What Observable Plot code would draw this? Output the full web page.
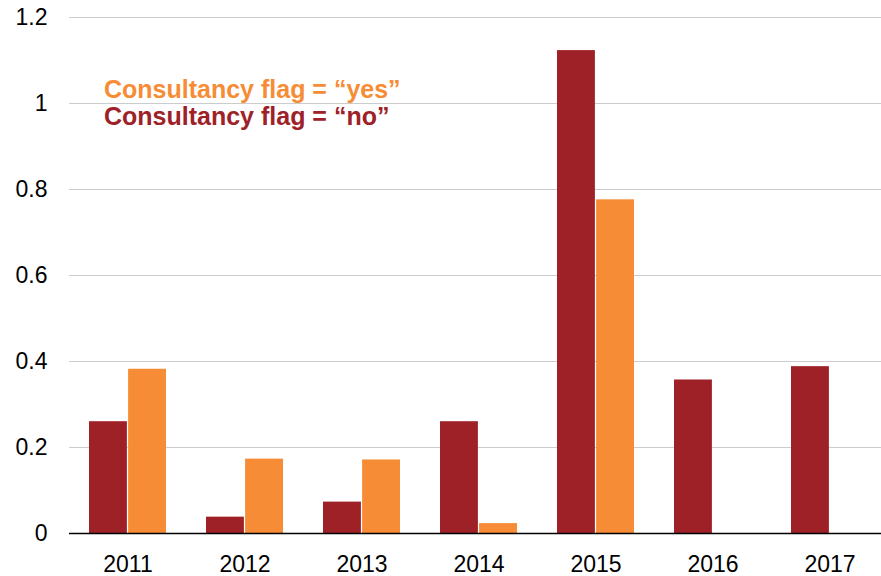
<!DOCTYPE html>
<html>
<head>
<meta charset="utf-8">
<script src="https://cdn.jsdelivr.net/npm/d3@7"></script>
<script src="https://cdn.jsdelivr.net/npm/@observablehq/plot@0.6"></script>
<style>
  html, body { margin: 0; padding: 0; background: #fff; }
  #wrap { position: relative; width: 881px; height: 576px; font-family: "Liberation Sans", Arial, sans-serif; }
  #legend { position: absolute; left: 104px; top: 76px; font-weight: bold; font-size: 25px; line-height: 27px; white-space: nowrap; }
</style>
</head>
<body>
<div id="wrap">
  <div id="chart"></div>
  <div id="legend"></div>
</div>
<script>
const years = ["2011", "2012", "2013", "2014", "2015", "2016", "2017"];
const noValues = [0.260, 0.038, 0.073, 0.260, 1.123, 0.357, 0.388];
const yesValues = [0.382, 0.173, 0.171, 0.023, 0.776, null, null];
const seriesLabels = ["Consultancy flag = \u201cyes\u201d", "Consultancy flag = \u201cno\u201d"];
const yTicks = [0, 0.2, 0.4, 0.6, 0.8, 1, 1.2];
const colorNo = "#9E2128";
const colorYes = "#F68D36";

const noRows = years.map((y, i) => ({ year: y, value: noValues[i] })).filter(d => d.value != null);
const yesRows = years.map((y, i) => ({ year: y, value: yesValues[i] })).filter(d => d.value != null);

const xRange = [69, 888];
const padInner = 0.34, padOuter = 0.17;
const band = d3.scaleBand(years, xRange).paddingInner(padInner).paddingOuter(padOuter);
const half = band.bandwidth() / 2;

const chart = Plot.plot({
  width: 881,
  height: 576,
  marginLeft: 69,
  marginRight: 0,
  marginTop: 17,
  marginBottom: 43,
  style: { fontFamily: "Liberation Sans, Arial, sans-serif", fontSize: "23px", color: "#000", background: "#fff", overflow: "visible" },
  x: { domain: years, range: xRange, paddingInner: padInner, paddingOuter: padOuter, label: null, tickSize: 0, tickPadding: 22 },
  y: { domain: [0, 1.2], ticks: yTicks, tickFormat: d => String(d), label: null, tickSize: 0, tickPadding: 22 },
  marks: [
    Plot.ruleY(yTicks.filter(d => d > 0), { stroke: "#cccccc", strokeWidth: 1 }),
    Plot.barY(noRows, { x: "year", y: "value", fill: colorNo, insetRight: half + 0.5 }),
    Plot.barY(yesRows, { x: "year", y: "value", fill: colorYes, insetLeft: half + 0.5 }),
    Plot.ruleY([0], { stroke: "#000", strokeWidth: 1.5 })
  ]
});
document.getElementById("chart").appendChild(chart);

const legend = document.getElementById("legend");
[[colorYes, seriesLabels[0]], [colorNo, seriesLabels[1]]].forEach(([c, label]) => {
  const div = document.createElement("div");
  div.textContent = label;
  div.style.color = c;
  legend.appendChild(div);
});
</script>
</body>
</html>
